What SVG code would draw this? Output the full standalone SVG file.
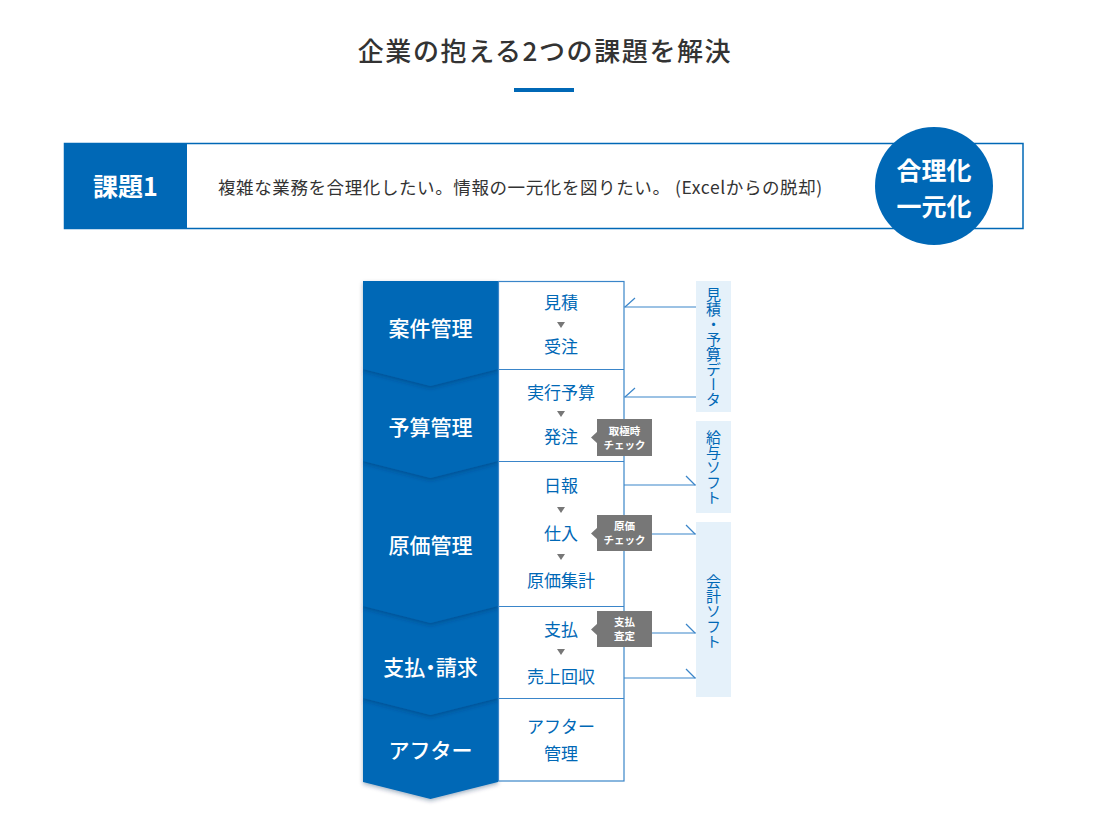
<svg xmlns="http://www.w3.org/2000/svg" width="1095" height="816" viewBox="0 0 1095 816">
<defs>
<style>
.jp{font-family:"Noto Sans CJK JP","Noto Sans",sans-serif}
.title{font-size:26px;fill:#333;font-weight:500;letter-spacing:1.6px}
.hdr{font-size:17.5px;fill:#333;letter-spacing:0.6px}
.lbl{font-size:21px;fill:#fff;font-weight:500;text-anchor:middle}
.step{font-size:17px;fill:#0068b6;text-anchor:middle}
.call{font-size:10.5px;fill:#fff;font-weight:700;text-anchor:middle}
.side{font-size:15px;fill:#0068b6;writing-mode:vertical-rl;text-anchor:middle}
.con{stroke:#3a85c9;stroke-width:1.2;fill:none}
.tri{fill:#777}
.calloutbox{fill:#777}
</style>
<filter id="sh" x="-10%" y="-10%" width="120%" height="130%">
<feDropShadow dx="0" dy="2" stdDeviation="2" flood-color="#002a55" flood-opacity="0.35"/>
</filter>
</defs>
<rect width="1095" height="816" fill="#fff"/>

<g id="title">
<text class="jp title" x="545" y="61" text-anchor="middle">企業の抱える2つの課題を解決</text>
<rect x="514" y="88" width="60" height="4" fill="#0068b6"/>
</g>

<g id="header">
<rect x="64.5" y="143.5" width="958.5" height="85" fill="#fff" stroke="#0068b6" stroke-width="1.5"/>
<rect x="64" y="143" width="123" height="86" fill="#0068b6"/>
<text class="jp" x="125.5" y="196" text-anchor="middle" font-size="25" font-weight="700" fill="#fff">課題1</text>
<text class="jp hdr" x="218" y="194">複雑な業務を合理化したい。情報の一元化を図りたい。 (Excelからの脱却)</text>
</g>

<g id="badge">
<circle cx="934" cy="186" r="59" fill="#0068b6"/>
<text class="jp" x="934" y="180" text-anchor="middle" font-size="25" font-weight="700" fill="#fff">合理化</text>
<text class="jp" x="934" y="216" text-anchor="middle" font-size="25" font-weight="700" fill="#fff">一元化</text>
</g>

<g id="phases">
<polygon points="363,698 498,698 498,782 430.5,799 363,782" fill="#0068b6" filter="url(#sh)"/>
<polygon points="363,606 498,606 498,698 430.5,715 363,698" fill="#0068b6" filter="url(#sh)"/>
<polygon points="363,461 498,461 498,606 430.5,623 363,606" fill="#0068b6" filter="url(#sh)"/>
<polygon points="363,369 498,369 498,461 430.5,478 363,461" fill="#0068b6" filter="url(#sh)"/>
<polygon points="363,281 498,281 498,369 430.5,386 363,369" fill="#0068b6" filter="url(#sh)"/>
<text class="jp lbl" x="430.5" y="336">案件管理</text>
<text class="jp lbl" x="430.5" y="435">予算管理</text>
<text class="jp lbl" x="430.5" y="553">原価管理</text>
<text class="jp lbl" x="430.5" y="675" style="font-feature-settings:'palt'">支払・請求</text>
<text class="jp lbl" x="430.5" y="758">アフター</text>
</g>

<g id="steps">
<rect x="498.5" y="281.5" width="125.5" height="499.5" fill="#fff" stroke="#3a85c9" stroke-width="1.2"/>
<line x1="498" y1="369.5" x2="624" y2="369.5" stroke="#3a85c9" stroke-width="1.2"/>
<line x1="498" y1="461.5" x2="624" y2="461.5" stroke="#3a85c9" stroke-width="1.2"/>
<line x1="498" y1="606.5" x2="624" y2="606.5" stroke="#3a85c9" stroke-width="1.2"/>
<line x1="498" y1="698.5" x2="624" y2="698.5" stroke="#3a85c9" stroke-width="1.2"/>
<text class="jp step" x="561" y="309">見積</text>
<polygon class="tri" points="557,322 565,322 561,328"/>
<text class="jp step" x="561" y="353">受注</text>
<text class="jp step" x="561" y="399">実行予算</text>
<polygon class="tri" points="557,411 565,411 561,417"/>
<text class="jp step" x="561" y="443">発注</text>
<text class="jp step" x="561" y="492">日報</text>
<polygon class="tri" points="557,507 565,507 561,513"/>
<text class="jp step" x="561" y="540">仕入</text>
<polygon class="tri" points="557,554 565,554 561,560"/>
<text class="jp step" x="561" y="587">原価集計</text>
<text class="jp step" x="561" y="636">支払</text>
<polygon class="tri" points="557,649 565,649 561,655"/>
<text class="jp step" x="561" y="683">売上回収</text>
<text class="jp step" x="561" y="733">アフター</text>
<text class="jp step" x="561" y="760">管理</text>
</g>

<g id="connectors">
<line class="con" x1="624" y1="307" x2="696" y2="307"/>
<line class="con" x1="625" y1="307" x2="635" y2="298"/>
<line class="con" x1="624" y1="397" x2="696" y2="397"/>
<line class="con" x1="625" y1="397" x2="635" y2="388"/>
<line class="con" x1="624" y1="485" x2="696" y2="485"/>
<line class="con" x1="686" y1="476" x2="695" y2="485"/>
<line class="con" x1="652" y1="534" x2="696" y2="534"/>
<line class="con" x1="686" y1="525" x2="695" y2="534"/>
<line class="con" x1="652" y1="633" x2="696" y2="633"/>
<line class="con" x1="686" y1="624" x2="695" y2="633"/>
<line class="con" x1="624" y1="678" x2="696" y2="678"/>
<line class="con" x1="686" y1="669" x2="695" y2="678"/>
</g>

<g id="callout-torikime">
<rect class="calloutbox" x="597" y="419" width="55" height="37"/>
<polygon class="calloutbox" points="598,431 591,437.5 598,444"/>
<text class="jp call" x="624.5" y="435">取極時</text>
<text class="jp call" x="624.5" y="449">チェック</text>
</g>
<g id="callout-genka">
<rect class="calloutbox" x="597" y="515" width="55" height="36"/>
<polygon class="calloutbox" points="598,527 591,533.5 598,540"/>
<text class="jp call" x="624.5" y="530">原価</text>
<text class="jp call" x="624.5" y="544">チェック</text>
</g>
<g id="callout-shiharai">
<rect class="calloutbox" x="597" y="611" width="55" height="36"/>
<polygon class="calloutbox" points="598,623 591,629.5 598,636"/>
<text class="jp call" x="624.5" y="626">支払</text>
<text class="jp call" x="624.5" y="640">査定</text>
</g>

<g id="side-mitsumori">
<rect x="696" y="281" width="35" height="131" fill="#e5f1fa"/>
<text class="jp side" x="713.5" y="346.5">見積・予算データ</text>
</g>
<g id="side-kyuyo">
<rect x="696" y="421" width="35" height="92" fill="#e5f1fa"/>
<text class="jp side" x="713.5" y="467">給与ソフト</text>
</g>
<g id="side-kaikei">
<rect x="696" y="522" width="35" height="175" fill="#e5f1fa"/>
<text class="jp side" x="713.5" y="611">会計ソフト</text>
</g>
</svg>
